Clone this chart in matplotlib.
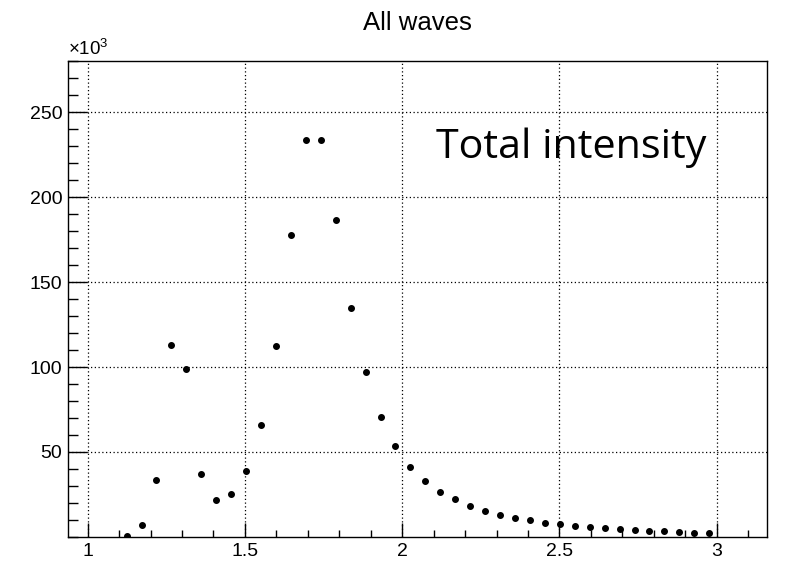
import numpy as np
import matplotlib.pyplot as plt
from matplotlib.ticker import MultipleLocator, FixedLocator, FuncFormatter

plt.rcParams.update({'font.family': 'Liberation Sans',
                     'mathtext.fontset': 'custom',
                     'mathtext.rm': 'Liberation Sans',
                     'mathtext.it': 'Liberation Sans:italic'})

# 40 mass bins between 1.1 and 3.0
bin_lo, bin_hi, n_bins = 1.1, 3.0, 40
# total intensity per bin, in units of 10^3
intensity = [0.6, 7.1, 33.6, 112.7, 98.8, 37.3, 22.0, 25.1, 38.8, 66.0,
             112.1, 177.7, 233.5, 233.8, 186.5, 134.5, 97.2, 70.8, 53.5, 41.0,
             33.1, 26.7, 22.2, 18.1, 15.3, 13.0, 11.4, 9.9, 8.5, 7.5,
             6.7, 5.9, 5.3, 4.8, 4.2, 3.8, 3.4, 3.0, 2.6, 2.2]

edges = np.linspace(bin_lo, bin_hi, n_bins + 1)
centers = 0.5 * (edges[:-1] + edges[1:])

fig = plt.figure(figsize=(7.87, 5.63), dpi=100)
ax = fig.add_axes([0.0864, 0.0462, 0.8882, 0.8454])

ax.plot(centers, intensity, 'o', color='black', markersize=4, linestyle='none')

ax.set_xlim(0.9375, 3.16)
ax.set_ylim(0, 280)

ax.xaxis.set_major_locator(FixedLocator([1, 1.5, 2, 2.5, 3]))
ax.xaxis.set_minor_locator(MultipleLocator(0.1))
ax.xaxis.set_major_formatter(FuncFormatter(lambda v, p: '%g' % v))
ax.yaxis.set_major_locator(FixedLocator([50, 100, 150, 200, 250]))
ax.yaxis.set_minor_locator(MultipleLocator(10))

ax.tick_params(axis='both', which='both', direction='in', top=False, right=False,
               labelsize=14, width=1, color='black')
ax.tick_params(axis='x', which='major', length=10, pad=4)
ax.tick_params(axis='x', which='minor', length=5)
ax.tick_params(axis='y', which='major', length=14, pad=4)
ax.tick_params(axis='y', which='minor', length=7.5)

for s in ax.spines.values():
    s.set_linewidth(1.0)

ax.grid(True, which='major', color='black', linestyle=(0, (1, 2)), linewidth=0.9)

ax.set_title('All waves', fontsize=18.5, pad=22)
ax.text(0.0, 1.004, r'$\times$10$^{3}$', transform=ax.transAxes, fontsize=13.5,
        ha='left', va='bottom')
ax.text(2.108, 222.8, 'Total intensity', family='Open Sans', fontsize=29.7,
        ha='left', va='baseline')

plt.savefig('out.png', dpi=100)
